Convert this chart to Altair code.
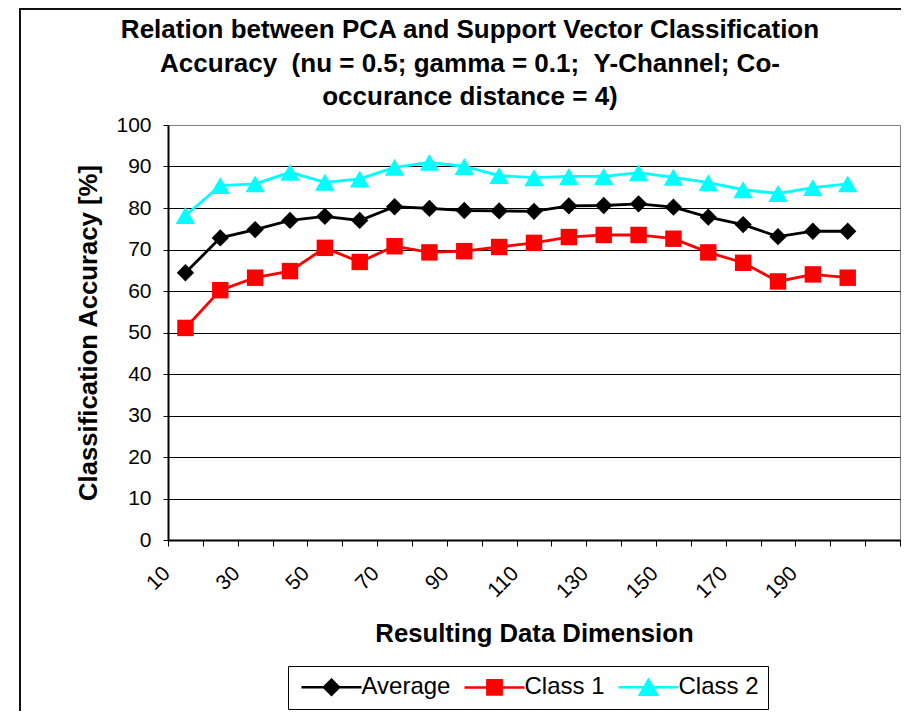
import altair as alt
import pandas as pd

FONT = "Liberation Sans"

dims = [10, 20, 30, 40, 50, 60, 70, 80, 90, 100, 110, 120, 130, 140, 150, 160, 170, 180, 190, 200]
average = [64.4, 72.8, 74.8, 77.0, 78.0, 77.0, 80.3, 79.9, 79.4, 79.3, 79.2, 80.5, 80.6, 81.0, 80.2, 77.8, 76.0, 73.1, 74.4, 74.4]
class1 = [51.1, 60.2, 63.2, 64.8, 70.4, 67.0, 70.8, 69.3, 69.6, 70.6, 71.6, 73.0, 73.5, 73.5, 72.6, 69.3, 66.8, 62.3, 64.0, 63.2]
class2 = [78.2, 85.4, 85.8, 88.6, 86.2, 87.0, 89.8, 91.0, 90.0, 87.8, 87.3, 87.6, 87.6, 88.5, 87.4, 86.1, 84.4, 83.5, 84.9, 85.8]

series = ["Average", "Class 1", "Class 2"]
colors = ["#000000", "#FF0000", "#00FFFF"]
marker_shapes = ["diamond", "square", "triangle-up"]
marker_sizes = [300, 270, 380]
legend_paths = [
    "M-4,0H4M0,-1L1,0L0,1L-1,0Z",
    "M-4,0H4M-0.95,-0.95H0.95V0.95H-0.95Z",
    "M-4,0H4M0,-1.0L1.15,1.0H-1.15Z",
]
y_ticks = list(range(0, 101, 10))
x_ticks = list(range(5, 216, 5))

title_lines = [
    "Relation between PCA and Support Vector Classification",
    "Accuracy \u00a0(nu = 0.5; gamma = 0.1; \u00a0Y-Channel; Co-",
    "occurance distance = 4)",
]

rows = []
for name, vals in zip(series, [average, class1, class2]):
    for d, v in zip(dims, vals):
        rows.append({"Dimension": d, "Accuracy": v, "Series": name})
df = pd.DataFrame(rows)

W, H = 732, 415

x_enc = alt.X(
    "Dimension:Q",
    scale=alt.Scale(domain=[5, 215], nice=False, zero=False),
    axis=alt.Axis(
        values=x_ticks,
        labelExpr="(datum.value - 10) % 20 === 0 && datum.value <= 190 ? datum.label : ''",
        labelAngle=315,
        labelAlign="right",
        labelBaseline="middle",
        labelPadding=24,
        labelOffset=-19,
        labelFontSize=21,
        labelOverlap=False,
        labelFlush=False,
        tickSize=6,
        tickWidth=1,
        tickColor={"condition": {"test": "datum.value % 10 === 5", "value": "black"}, "value": "transparent"},
        domainColor="black",
        domainWidth=2,
        grid=False,
        title="Resulting Data Dimension",
        titleFontSize=25.7,
        titleFontWeight="bold",
        titleX=W / 2,
        titleY=101.7,
        titleAlign="center",
        titleBaseline="alphabetic",
    ),
)
y_enc = alt.Y(
    "Accuracy:Q",
    scale=alt.Scale(domain=[0, 100], nice=False, zero=True),
    axis=alt.Axis(
        values=y_ticks,
        labelFontSize=21,
        labelPadding=12,
        tickSize=5,
        tickColor="black",
        domainColor="black",
        domainWidth=2,
        grid=True,
        gridColor={"condition": {"test": "datum.value === 100", "value": "transparent"}, "value": "black"},
        gridWidth=1,
        title="Classification Accuracy [%]",
        titleFontSize=25.7,
        titleFontWeight="bold",
        titleAngle=270,
        titleX=-80,
        titleY=H / 2,
        titleAlign="center",
        titleBaseline="middle",
    ),
)
# data-driven domain (sorted = series order) so this hidden-legend scale is not merged with the shown legend
color_scale = alt.Scale(range=colors)

lines = alt.Chart(df).mark_line(strokeWidth=2.8).encode(
    x=x_enc, y=y_enc, color=alt.Color("Series:N", scale=color_scale, legend=None)
)

marker_layers = []
for name, shp, sz in zip(series, marker_shapes, marker_sizes):
    marker_layers.append(
        alt.Chart(df)
        .transform_filter(alt.datum.Series == name)
        .mark_point(shape=shp, filled=True, size=sz, opacity=1)
        .encode(x=x_enc, y=y_enc, color=alt.Color("Series:N", scale=color_scale, legend=None))
    )

leg = alt.Legend(
    orient="none",
    legendX=120,
    legendY=541,
    direction="horizontal",
    columns=3,
    title=None,
    labelFont=FONT,
    labelFontSize=24,
    labelColor="black",
    labelLimit=400,
    labelOffset=18,
    symbolOffset=22.5,
    symbolSize=225,
    symbolStrokeWidth=2.5,
    symbolOpacity=1,
    columnPadding=8,
    padding=9,
    strokeColor="black",
    fillColor="white",
)
# legend-only layer: its points are pushed below the plot and clipped away
legend_layer = (
    alt.Chart(df)
    .transform_calculate(Accuracy="-50")
    .mark_point(filled=True, opacity=1, clip=True)
    .encode(
        x=x_enc,
        y=y_enc,
        fill=alt.Fill("Series:N", scale=alt.Scale(domain=series, range=colors), legend=leg),
        stroke=alt.Stroke("Series:N", scale=alt.Scale(domain=series, range=colors), legend=leg),
        shape=alt.Shape("Series:N", scale=alt.Scale(domain=series, range=legend_paths), legend=leg),
    )
)

frame_df = pd.DataFrame({"k": [0]})
left_border = alt.Chart(frame_df).mark_rule(color="#111111", strokeWidth=2).encode(
    x=alt.value(-148), y=alt.value(-117), y2=alt.value(600)
)
top_border = alt.Chart(frame_df).mark_rule(color="#111111", strokeWidth=2).encode(
    x=alt.value(-149), x2=alt.value(740), y=alt.value(-116)
)

chart = (
    alt.layer(left_border, top_border, lines, *marker_layers, legend_layer)
    .properties(
        width=W,
        height=H,
        padding={"left": 160, "top": 117, "right": 1, "bottom": 171},
        autosize=alt.AutoSizeParams(type="none"),
        background="white",
        title=alt.TitleParams(
            text=title_lines,
            anchor="middle",
            frame="group",
            dx=-64,
            dy=139,
            font=FONT,
            fontSize=26,
            fontWeight="bold",
            color="black",
            lineHeight=33.4,
            offset=10,
            baseline="bottom",
        ),
    )
    .configure_axis(labelFont=FONT, titleFont=FONT, labelColor="black", titleColor="black")
    .configure_view(stroke="#808080", strokeWidth=1)
)

chart.save("out.html", embed_options={"renderer": "svg", "actions": False})
